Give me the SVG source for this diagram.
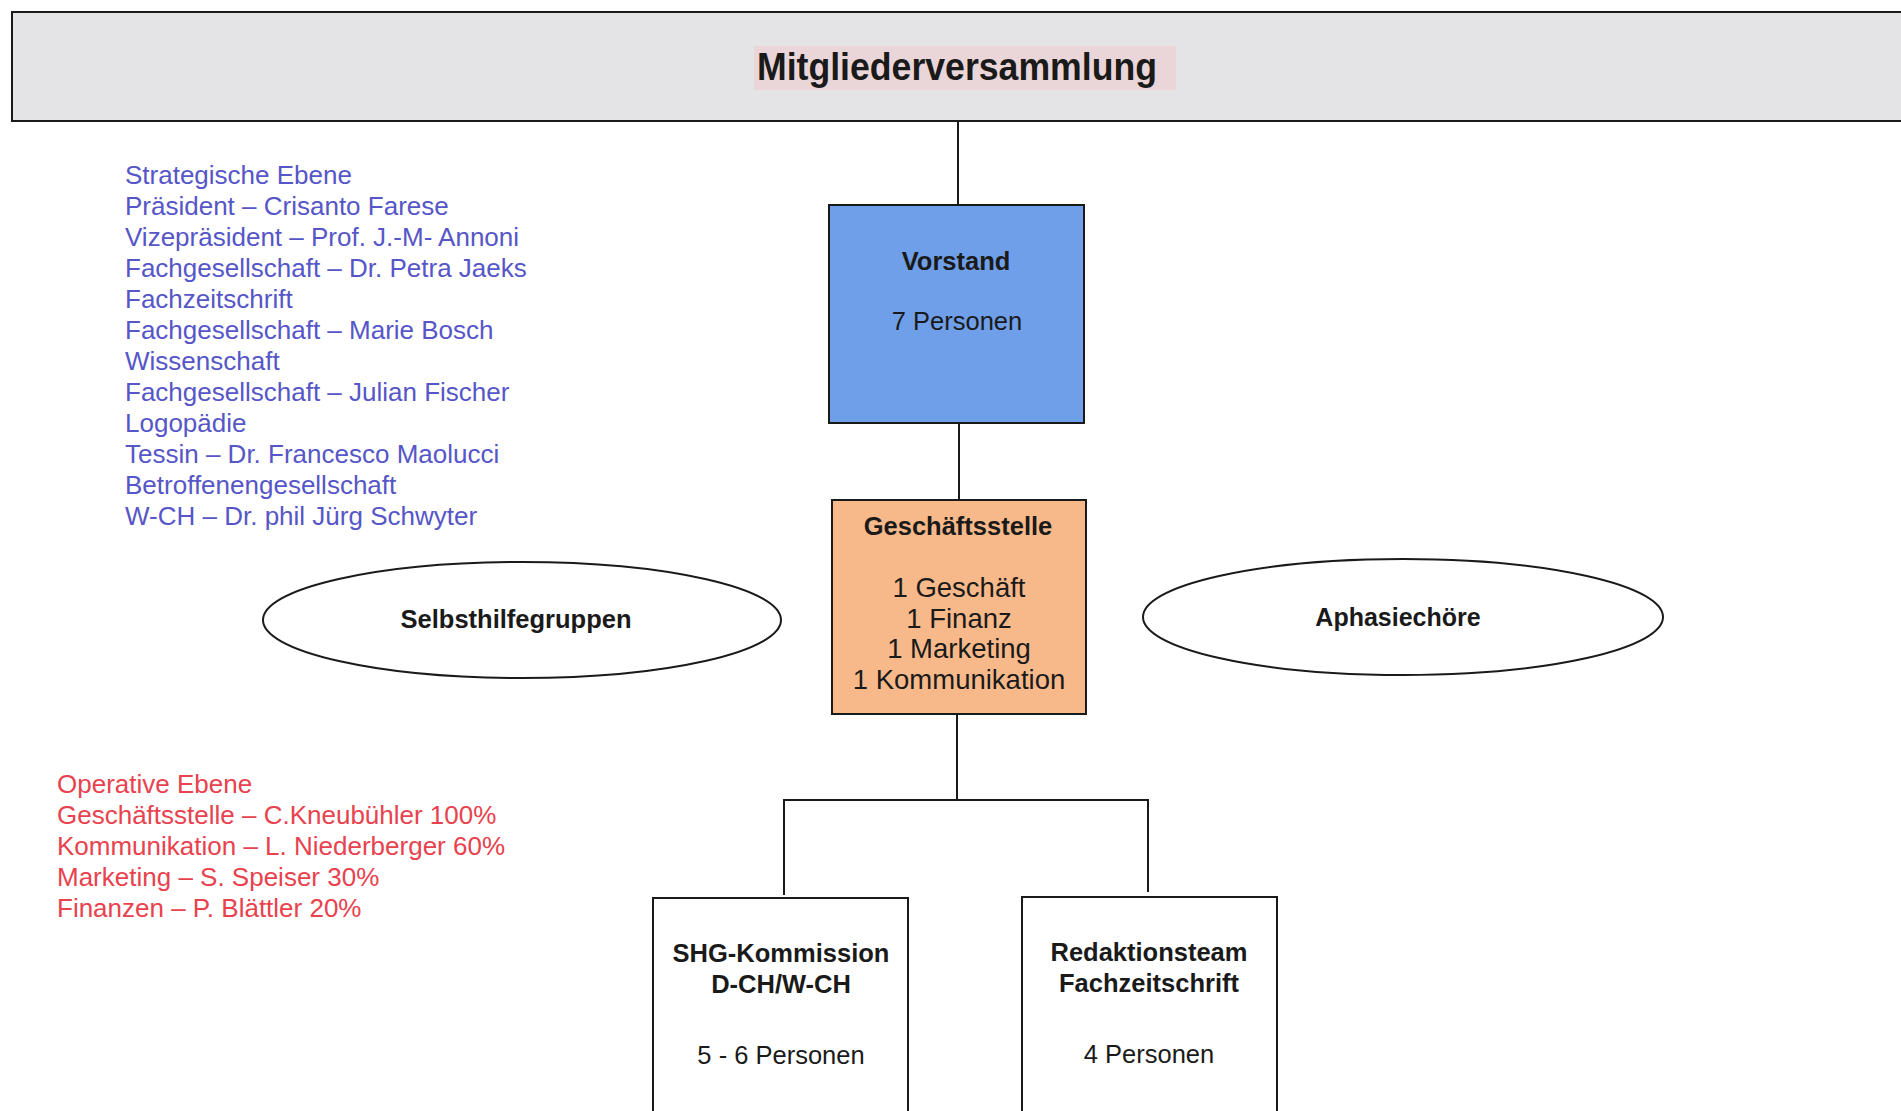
<svg xmlns="http://www.w3.org/2000/svg" width="1901" height="1111" viewBox="0 0 1901 1111">
<style>
.box{stroke:#1a1a1a;stroke-width:2}
.ell{fill:#ffffff;stroke:#1a1a1a;stroke-width:2}
.conn{stroke:#1a1a1a;stroke-width:2;fill:none}
.t{font-family:"Liberation Sans",Arial,sans-serif;fill:#1a1a1a;text-anchor:middle;font-size:25.5px}
.b{font-weight:bold}
.strat{font-family:"Liberation Sans",Arial,sans-serif;font-size:26px;fill:#5656c8}
.oper{font-family:"Liberation Sans",Arial,sans-serif;font-size:26px;fill:#e8424e}
</style>
<rect width="1901" height="1111" fill="#ffffff"/>
<g id="connectors">
<line class="conn" x1="958" y1="121" x2="958" y2="205"/>
<line class="conn" x1="959" y1="423" x2="959" y2="500"/>
<polyline class="conn" points="957,714 957,800"/>
<polyline class="conn" points="784,895 784,800 1148,800 1148,892"/>
</g>
<g id="mitgliederversammlung">
<rect class="box" x="12" y="12" width="1900" height="109" fill="#e4e4e6"/>
<rect x="754" y="46" width="422" height="44" fill="#ead6d8"/>
<text class="t b" x="957" y="80" style="font-size:38px" textLength="400" lengthAdjust="spacingAndGlyphs">Mitgliederversammlung</text>
</g>
<g id="vorstand">
<rect class="box" x="829" y="205" width="255" height="218" fill="#6e9fe8"/>
<text class="t b" x="956" y="270">Vorstand</text>
<text class="t" x="957" y="330">7 Personen</text>
</g>
<g id="geschaeftsstelle">
<rect class="box" x="832" y="500" width="254" height="214" fill="#f8b98a"/>
<text class="t b" x="958" y="535">Geschäftsstelle</text>
<text class="t" x="959" y="597" style="font-size:27.5px">1 Geschäft</text>
<text class="t" x="959" y="628" style="font-size:27.5px">1 Finanz</text>
<text class="t" x="959" y="658" style="font-size:27.5px">1 Marketing</text>
<text class="t" x="959" y="689" style="font-size:27.5px">1 Kommunikation</text>
</g>
<g id="selbsthilfegruppen">
<ellipse class="ell" cx="522" cy="620" rx="259" ry="58"/>
<text class="t b" x="516" y="628">Selbsthilfegruppen</text>
</g>
<g id="aphasiechoere">
<ellipse class="ell" cx="1403" cy="617" rx="260" ry="58"/>
<text class="t b" x="1398" y="626" style="font-size:25px">Aphasiechöre</text>
</g>
<g id="shg-kommission">
<rect class="box" x="653" y="898" width="255" height="230" fill="#ffffff"/>
<text class="t b" x="781" y="962">SHG-Kommission</text>
<text class="t b" x="781" y="993">D-CH/W-CH</text>
<text class="t" x="781" y="1064">5 - 6 Personen</text>
</g>
<g id="redaktionsteam">
<rect class="box" x="1022" y="897" width="255" height="230" fill="#ffffff"/>
<text class="t b" x="1149" y="961">Redaktionsteam</text>
<text class="t b" x="1149" y="992">Fachzeitschrift</text>
<text class="t" x="1149" y="1063">4 Personen</text>
</g>
<g id="strategische-ebene">
<text class="strat" x="125" y="184">Strategische Ebene</text>
<text class="strat" x="125" y="215">Präsident – Crisanto Farese</text>
<text class="strat" x="125" y="246">Vizepräsident – Prof. J.-M- Annoni</text>
<text class="strat" x="125" y="277">Fachgesellschaft – Dr. Petra Jaeks</text>
<text class="strat" x="125" y="308">Fachzeitschrift</text>
<text class="strat" x="125" y="339">Fachgesellschaft – Marie Bosch</text>
<text class="strat" x="125" y="370">Wissenschaft</text>
<text class="strat" x="125" y="401">Fachgesellschaft – Julian Fischer</text>
<text class="strat" x="125" y="432">Logopädie</text>
<text class="strat" x="125" y="463">Tessin – Dr. Francesco Maolucci</text>
<text class="strat" x="125" y="494">Betroffenengesellschaft</text>
<text class="strat" x="125" y="525">W-CH – Dr. phil Jürg Schwyter</text>
</g>
<g id="operative-ebene">
<text class="oper" x="57" y="793">Operative Ebene</text>
<text class="oper" x="57" y="824">Geschäftsstelle – C.Kneubühler 100%</text>
<text class="oper" x="57" y="855">Kommunikation – L. Niederberger 60%</text>
<text class="oper" x="57" y="886">Marketing – S. Speiser 30%</text>
<text class="oper" x="57" y="917">Finanzen – P. Blättler 20%</text>
</g>
</svg>
